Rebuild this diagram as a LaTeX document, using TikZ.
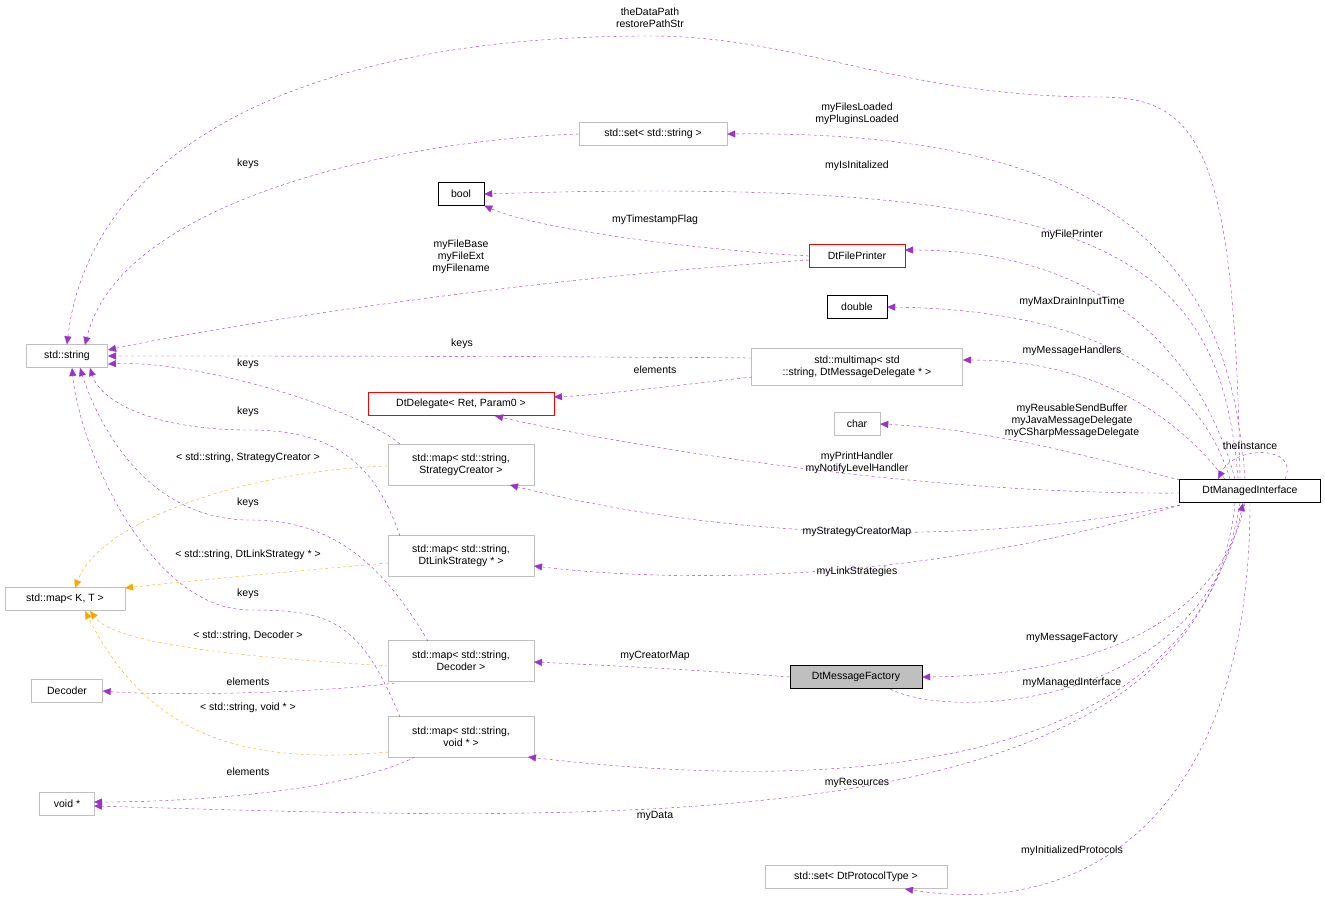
\documentclass[tikz,border=0pt]{standalone}
\usepackage{fontspec}
\setmainfont{Liberation Sans}
\usetikzlibrary{arrows.meta}
\definecolor{edgep}{HTML}{9A32CD}
\definecolor{edgeo}{HTML}{FFA500}
\definecolor{boxg}{HTML}{BFBFBF}
\begin{document}
\begin{tikzpicture}[x=1pt,y=-1pt,
  every node/.style={font=\fontsize{10.5}{12}\selectfont},
  box/.style={draw=boxg,fill=white,inner sep=3pt,align=center,minimum height=23pt},
  bbox/.style={box,draw=black},
  rbox/.style={box,draw=red},
  lbl/.style={align=center,inner sep=0pt},
  e/.style={draw=edgep,dashed,-{Triangle[length=8pt,width=7pt]},fill=none},
  o/.style={draw=edgeo,dashed,-{Triangle[length=8pt,width=7pt]},fill=none}]
\useasboundingbox (0,0) rectangle (1325,908);
\node[box,minimum width=81pt] (str) at (67,356) {std::string};
\node[box,minimum width=148pt] (setstr) at (653,134) {std::set< std::string >};
\node[bbox,minimum width=46pt] (bool) at (461,194) {bool};
\node[rbox,minimum width=96pt] (fp) at (857,256) {DtFilePrinter};
\node[bbox,minimum width=60pt] (dbl) at (857,307) {double};
\node[box,minimum width=211pt,minimum height=37pt] (mm) at (857,367) {std::multimap< std\\::string, DtMessageDelegate * >};
\node[rbox,minimum width=186pt] (dd) at (461,404) {DtDelegate< Ret, Param0 >};
\node[box,minimum width=46pt] (chr) at (857,424) {char};
\node[box,minimum width=146pt,minimum height=41pt] (msc) at (461,465) {std::map< std::string,\\StrategyCreator >};
\node[bbox,minimum width=141pt] (mi) at (1250,491) {DtManagedInterface};
\node[box,minimum width=120pt] (kt) at (65,599) {std::map< K, T >};
\node[box,minimum width=146pt,minimum height=41pt] (mls) at (461,556) {std::map< std::string,\\DtLinkStrategy * >};
\node[box,minimum width=146pt,minimum height=41pt] (mdec) at (461,661) {std::map< std::string,\\Decoder >};
\node[bbox,fill=boxg,minimum width=132pt] (mf) at (856,677) {DtMessageFactory};
\node[box,minimum width=71pt] (dec) at (67,691) {Decoder};
\node[box,minimum width=146pt,minimum height=41pt] (mvoid) at (461,737) {std::map< std::string,\\void * >};
\node[box,minimum width=55pt] (vp) at (67,804) {void *};
\node[box,minimum width=182pt] (sdp) at (856,877) {std::set< DtProtocolType >};

% edges
\draw[e] (1240,479) .. controls (1235,150) and (1200,97) .. (1100,97) .. controls (900,97) and (800,36) .. (650,36) .. controls (300,36) and (90,150) .. (str.north);
\node[lbl] at (650,18) {theDataPath\\restorePathStr};
\draw[e] (1245,479) .. controls (1230,250) and (1100,130) .. (setstr.east);
\node[lbl] at (857,114) {myFilesLoaded\\myPluginsLoaded};
\draw[e] (setstr.west) .. controls (400,140) and (120,200) .. (85,345);
\node[lbl] at (248,164) {keys};
\draw[e] (1238,479) .. controls (1220,250) and (1100,175) .. (bool.east);
\node[lbl] at (857,166) {myIsInitalized};
\draw[e] (fp.west) .. controls (700,250) and (540,230) .. (bool.south east);
\node[lbl] at (655,220) {myTimestampFlag};
\draw[e] (809,260) .. controls (500,280) and (200,330) .. (108,350);
\node[lbl] at (461,257) {myFileBase\\myFileExt\\myFilename};
\draw[e] (1235,479) .. controls (1200,350) and (1100,250) .. (905,250);
\node[lbl] at (1072,235) {myFilePrinter};
\draw[e] (1230,479) .. controls (1200,380) and (1100,310) .. (dbl.east);
\node[lbl] at (1072,302) {myMaxDrainInputTime};
\draw[e] (1225,479) .. controls (1180,420) and (1100,360) .. (963,360);
\node[lbl] at (1072,351) {myMessageHandlers};
\draw[e] (752,358) .. controls (500,356) and (300,356) .. (108,356);
\node[lbl] at (462,344) {keys};
\draw[e] (752,377) .. controls (680,385) and (600,395) .. (554,397);
\node[lbl] at (655,370) {elements};
\draw[e] (1180,480) .. controls (1100,460) and (1000,430) .. (chr.east);
\node[lbl] at (1072,421) {myReusableSendBuffer\\myJavaMessageDelegate\\myCSharpMessageDelegate};
\draw[e] (1180,493) .. controls (900,495) and (600,440) .. (495,416);
\node[lbl] at (857,463) {myPrintHandler\\myNotifyLevelHandler};
\draw[e] (1285,479) .. controls (1300,445) and (1235,445) .. (1218,479);
\node[lbl] at (1250,446) {theInstance};
\draw[e] (400,444) .. controls (360,410) and (200,360) .. (108,364);
\node[lbl] at (248,364) {keys};
\draw[o] (388,466) .. controls (250,470) and (100,520) .. (75,588);
\node[lbl] at (248,458) {< std::string, StrategyCreator >};
\draw[e] (1180,505) .. controls (900,560) and (650,520) .. (510,485);
\node[lbl] at (857,532) {myStrategyCreatorMap};
\draw[e] (400,536) .. controls (380,480) and (350,430) .. (250,430) .. controls (150,430) and (100,400) .. (90,368);
\node[lbl] at (248,412) {keys};
\draw[o] (388,563) .. controls (250,575) and (150,585) .. (125,588);
\node[lbl] at (248,555) {< std::string, DtLinkStrategy * >};
\draw[e] (1180,505) .. controls (900,590) and (650,580) .. (534,566);
\node[lbl] at (857,572) {myLinkStrategies};
\draw[e] (428,641) .. controls (380,560) and (330,520) .. (250,520) .. controls (150,520) and (100,430) .. (80,368);
\node[lbl] at (248,503) {keys};
\draw[o] (388,666) .. controls (300,660) and (120,650) .. (90,611);
\node[lbl] at (248,636) {< std::string, Decoder >};
\draw[e] (395,683) .. controls (300,695) and (150,695) .. (dec.east);
\node[lbl] at (248,682) {elements};
\draw[e] (mf.west) .. controls (700,670) and (600,665) .. (534,662);
\node[lbl] at (655,656) {myCreatorMap};
\draw[e] (1245,503) .. controls (1220,620) and (1100,675) .. (mf.east);
\node[lbl] at (1072,638) {myMessageFactory};
\draw[e] (890,689) .. controls (950,720) and (1200,710) .. (1243,503);
\node[lbl] at (1072,683) {myManagedInterface};
\draw[e] (400,717) .. controls (360,620) and (330,610) .. (250,610) .. controls (150,610) and (80,450) .. (72,368);
\node[lbl] at (248,594) {keys};
\draw[o] (388,752) .. controls (250,765) and (150,740) .. (85,611);
\node[lbl] at (248,708) {< std::string, void * >};
\draw[e] (415,757) .. controls (350,790) and (200,802) .. (94,802);
\node[lbl] at (248,772) {elements};
\draw[e] (1240,503) .. controls (1200,750) and (900,800) .. (528,757);
\node[lbl] at (857,783) {myResources};
\draw[e] (1235,503) .. controls (1200,850) and (600,820) .. (94,806);
\node[lbl] at (655,816) {myData};
\draw[e] (1250,503) .. controls (1250,800) and (1100,920) .. (905,889);
\node[lbl] at (1072,851) {myInitializedProtocols};
\end{tikzpicture}
\end{document}
